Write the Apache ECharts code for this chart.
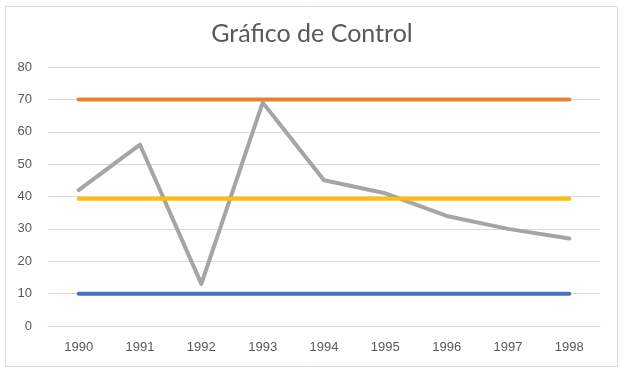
<!DOCTYPE html>
<html>
<head>
<meta charset="utf-8">
<script src="https://cdn.jsdelivr.net/npm/echarts@6/dist/echarts.min.js"></script>
<style>
html,body{margin:0;padding:0;background:#fff;}
#chart{width:624px;height:373px;}
</style>
</head>
<body>
<div id="chart"></div>
<script>
var categories = ['1990','1991','1992','1993','1994','1995','1996','1997','1998'];
var values = [42, 56, 13, 69, 45, 41, 34, 30, 27];
var upperLimit = [70, 70, 70, 70, 70, 70, 70, 70, 70];
var centerLine = [39.3, 39.3, 39.3, 39.3, 39.3, 39.3, 39.3, 39.3, 39.3];
var lowerLimit = [10, 10, 10, 10, 10, 10, 10, 10, 10];
var yTicks = [0, 10, 20, 30, 40, 50, 60, 70, 80];

var chart = echarts.init(document.getElementById('chart'), null, {renderer:'canvas'});
function lineSeries(name, data, color){
  return {name:name, type:'line', data:data, symbol:'none', smooth:false,
    lineStyle:{color:color, width:4, cap:'round', join:'round'}, itemStyle:{color:color}, silent:true, animation:false};
}
chart.setOption({
  animation:false,
  backgroundColor:'#fff',
  graphic:[{type:'rect', shape:{x:5.5, y:6.5, width:612, height:360}, style:{fill:'none', stroke:'#d9d9d9', lineWidth:1}, z:-1}],
  title:{text:'Gráfico de Control', left:'center', top:16,
    textStyle:{fontFamily:'Lato', fontWeight:400, fontSize:25, color:'#595959'}},
  grid:{left:48, right:24, top:67, bottom:47},
  xAxis:{type:'category', data:categories, boundaryGap:true,
    axisLine:{show:true, lineStyle:{color:'#d9d9d9'}}, axisTick:{show:false},
    axisLabel:{color:'#595959', fontSize:13, fontFamily:'Liberation Sans', margin:15}},
  yAxis:{type:'value', min:yTicks[0], max:yTicks[yTicks.length-1], interval:10,
    axisLine:{show:false}, axisTick:{show:false},
    axisLabel:{color:'#595959', fontSize:13, fontFamily:'Liberation Sans', margin:16},
    splitLine:{lineStyle:{color:'#d9d9d9'}}},
  series:[
    lineSeries('Límite inferior', lowerLimit, '#4472C4'),
    lineSeries('Límite superior', upperLimit, '#ED7D31'),
    lineSeries('Valores', values, '#A5A5A5'),
    lineSeries('Media', centerLine, '#FFC000')
  ]
});
</script>
</body>
</html>
